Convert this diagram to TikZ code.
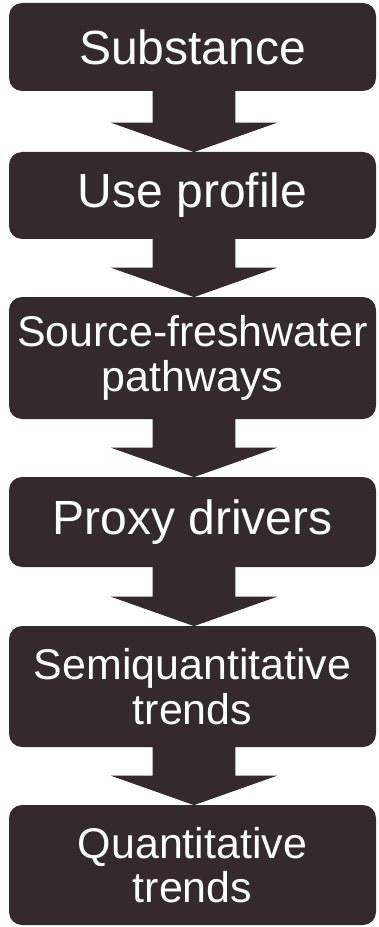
\documentclass[tikz,border=0pt]{standalone}
\usepackage{fontspec}
\setmainfont{Liberation Sans}
\usetikzlibrary{calc}
\definecolor{boxfill}{RGB}{52,42,45}

% Block arrow from the bottom of one stage to the top of the next
\newcommand\flowarrow[2]{%
  \fill[boxfill]
    let \p1=($(#1.south)+(1.5,0)$), \p2=($(#2.north)+(1.5,0)$) in
    (\x1-31.1pt,\y1+1pt) -- (\x1+31.1pt,\y1+1pt)
    -- (\x1+31.1pt,\y2+21.75pt) -- (\x1+62.25pt,\y2+21.75pt)
    -- (\x2,\y2-0.3pt)
    -- (\x1-62.25pt,\y2+21.75pt) -- (\x1-31.1pt,\y2+21.75pt) -- cycle;}

\begin{document}
\begin{tikzpicture}[x=0.75pt,y=-0.75pt,
  stage/.style={fill=boxfill, text=white, rounded corners=9.75pt,
    minimum width=275.25pt, align=center, inner sep=0pt},
  bigtext/.style={font=\fontsize{36}{38}\selectfont},
  smalltext/.style={font=\fontsize{32.2}{33.5}\selectfont},
]
\useasboundingbox (0,0) rectangle (378,927);

\node[stage, bigtext,   minimum height=66pt]    (s1) at (192.5,47)    {Substance};
\node[stage, bigtext,   minimum height=65.25pt] (s2) at (192.5,195.5) {Use profile};
\node[stage, smalltext, minimum height=91.5pt]  (s3) at (192.5,358)   {Source-freshwater\\pathways};
\node[stage, bigtext,   minimum height=67.5pt]  (s4) at (192.5,522)   {Proxy drivers};
\node[stage, smalltext, minimum height=90.75pt] (s5) at (192.5,686.5) {Semiquantitative\\trends};
\node[stage, smalltext, minimum height=90pt]    (s6) at (192.5,865)   {Quantitative\\trends};

\flowarrow{s1}{s2}
\flowarrow{s2}{s3}
\flowarrow{s3}{s4}
\flowarrow{s4}{s5}
\flowarrow{s5}{s6}
\end{tikzpicture}
\end{document}
